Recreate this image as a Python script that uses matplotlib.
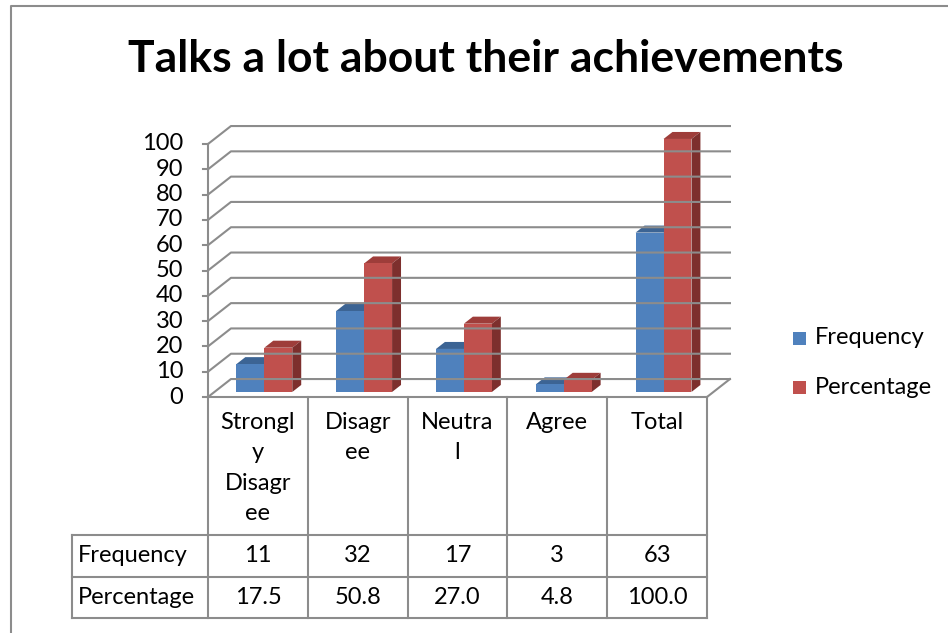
import matplotlib
matplotlib.use("Agg")
import matplotlib.pyplot as plt
from matplotlib.patches import Polygon, Rectangle
import matplotlib.transforms as mtransforms

## Dados do grafico
categorias = ["Strongly Disagree", "Disagree", "Neutral", "Agree", "Total"]
rotulos = ["Strongl\ny\nDisagr\nee", "Disagr\nee", "Neutra\nl", "Agree", "Total"]
frequencia = [11, 32, 17, 3, 63]
percentagem = [17.5, 50.8, 27.0, 4.8, 100.0]
texto_freq = ["11", "32", "17", "3", "63"]
texto_perc = ["17.5", "50.8", "27.0", "4.8", "100.0"]
series = ["Frequency", "Percentage"]
yticks = list(range(0, 101, 10))

plt.rcParams['font.family'] = ['Lato', 'DejaVu Sans']

W, H = 948, 633
fig = plt.figure(figsize=(W / 100, H / 100), dpi=100)

# camada de fundo em pixels (titulo, tabela, legenda, moldura)
fundo = fig.add_axes([0, 0, 1, 1])
fundo.set_xlim(0, W)
fundo.set_ylim(H, 0)
fundo.axis("off")

# eixo dos dados
ax = fig.add_axes([208 / W, 1 - 397 / H, (707 - 208) / W, (397 - 144) / H])
ax.set_xlim(0, len(categorias))
ax.set_ylim(0, 100)
ax.axis("off")

cinza = "#8c8c8c"
fs = 17
DX, DY = 0.23, 7.1      # profundidade das paredes
t0, dd = 0.28, 0.39      # posicao e profundidade das barras
larg = 0.28
n = len(categorias)

# paredes e grade
for v in yticks:
    ax.plot([0, DX, n + DX], [v, v + DY, v + DY], color=cinza, lw=1.5, clip_on=False)
    ax.plot([-0.05, 0], [v, v], color=cinza, lw=1.5, clip_on=False)
    ax.text(-0.25, v, str(v), ha="right", va="center", fontsize=fs, clip_on=False)
ax.plot([0, 0], [0, 100], color=cinza, lw=1.5, clip_on=False)
ax.plot([n, n + DX], [0, DY], color=cinza, lw=1.5, clip_on=False)

# barras 3D
cores = [("#4F81BD", "#3C6494", "#385D8A"), ("#C0504D", "#9E3D3A", "#7D2F2D")]
for i in range(n):
    for s, valores in enumerate([frequencia, percentagem]):
        v = valores[i]
        frente, topo, lado = cores[s]
        x0 = i + 0.22 + s * larg + t0 * DX
        y0 = t0 * DY
        ax.add_patch(Polygon([(x0, y0 + v), (x0 + larg, y0 + v),
                              (x0 + larg + dd * DX, y0 + v + dd * DY),
                              (x0 + dd * DX, y0 + v + dd * DY)],
                             closed=True, fc=topo, ec="none", clip_on=False))
        ax.add_patch(Polygon([(x0 + larg, y0), (x0 + larg + dd * DX, y0 + dd * DY),
                              (x0 + larg + dd * DX, y0 + v + dd * DY), (x0 + larg, y0 + v)],
                             closed=True, fc=lado, ec="none", clip_on=False))
        ax.add_patch(Rectangle((x0, y0), larg, v, fc=frente, ec="none", clip_on=False))

# tabela de dados (x em categorias, y em pixels)
tr = mtransforms.blended_transform_factory(ax.transData, fundo.transData)
x_esq = (72 - 208) / 99.8
for k in range(n + 1):
    fundo.plot([k, k], [397, 618], color=cinza, lw=1.5, transform=tr, clip_on=False)
fundo.plot([0, n], [397, 397], color=cinza, lw=1.5, transform=tr, clip_on=False)
for yy in [535, 577, 618]:
    fundo.plot([x_esq, n], [yy, yy], color=cinza, lw=1.5, transform=tr, clip_on=False)
fundo.plot([x_esq, x_esq], [535, 618], color=cinza, lw=1.5, transform=tr, clip_on=False)

for i in range(n):
    fundo.text(i + 0.5, 412, rotulos[i], ha="center", va="top", fontsize=fs,
               linespacing=1.55, transform=tr)
    fundo.text(i + 0.5, 556, texto_freq[i], ha="center", va="center", fontsize=fs, transform=tr)
    fundo.text(i + 0.5, 598, texto_perc[i], ha="center", va="center", fontsize=fs, transform=tr)
fundo.text(78, 556, series[0], ha="left", va="center", fontsize=fs)
fundo.text(78, 598, series[1], ha="left", va="center", fontsize=fs)

# legenda
for s, yy in enumerate([338, 387]):
    fundo.add_patch(Rectangle((793, yy - 6.5), 13, 13, fc=cores[s][0], ec="none"))
    fundo.text(815, yy, series[s], ha="left", va="center", fontsize=fs)

# titulo e moldura
fundo.text(486, 72, "Talks a lot about their achievements", ha="center", va="baseline",
           fontsize=32, fontweight="bold")
fundo.plot([11, 11, W], [H, 6, 6], color=cinza, lw=1.5)

fig.savefig("out.png", dpi=100)
